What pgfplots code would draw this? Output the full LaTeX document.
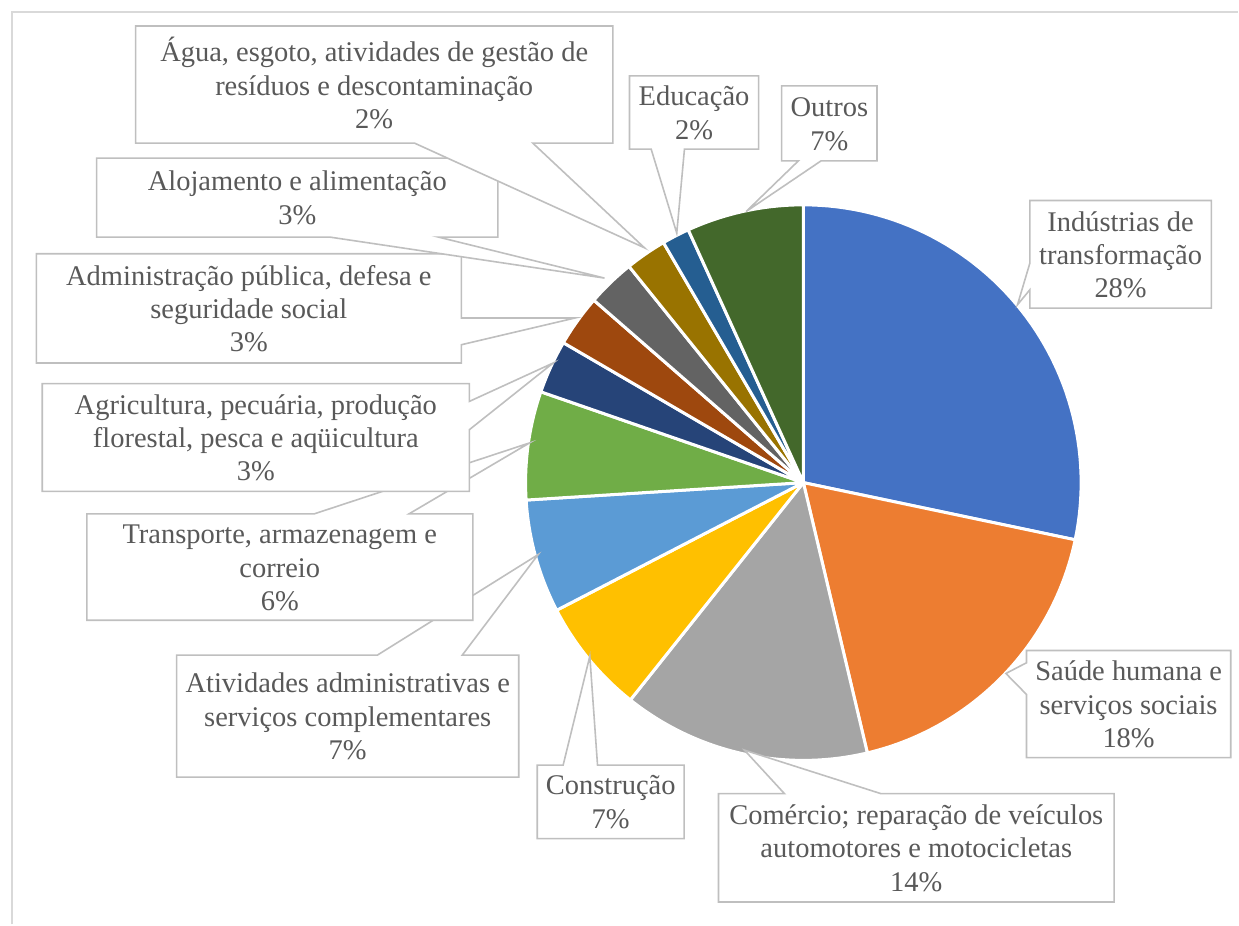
\documentclass[border=0pt]{standalone}
\usepackage{pgfplots}
\pgfplotsset{compat=1.18}
\usepackage{fontspec}
\setmainfont{Liberation Serif}
\definecolor{cA}{HTML}{4472C4}
\definecolor{cB}{HTML}{ED7D31}
\definecolor{cC}{HTML}{A5A5A5}
\definecolor{cD}{HTML}{FFC000}
\definecolor{cE}{HTML}{5B9BD5}
\definecolor{cF}{HTML}{70AD47}
\definecolor{cG}{HTML}{264478}
\definecolor{cH}{HTML}{9E480E}
\definecolor{cI}{HTML}{636363}
\definecolor{cJ}{HTML}{997300}
\definecolor{cK}{HTML}{255E91}
\definecolor{cL}{HTML}{43682B}
\definecolor{txt}{HTML}{595959}
\definecolor{brd}{HTML}{BFBFBF}
\definecolor{frm}{HTML}{D9D9D9}
\tikzset{
  lbl/.style={align=center, text=txt, inner sep=0pt, font=\fontsize{28.5}{33.3}\selectfont},
  co/.style={draw=brd, fill=white, line width=1.6pt, line join=miter}}
% slice: start percent, end percent (cumulative shares), colour
\newcommand{\pieslice}[3]{%
  \addplot[fill=#3, draw=white, line width=3pt, line join=round, domain=#1:#2, samples=60]
    ({804+278*cos(90-3.6*x)},{483-278*sin(90-3.6*x)}) -- (axis cs:804,483) -- cycle;}
\begin{document}
\begin{tikzpicture}
\begin{axis}[scale only axis, width=1239pt, height=925pt,
  xmin=0, xmax=1239, ymin=0, ymax=925, y dir=reverse,
  axis lines=none, clip=false]
\path (0,0) rectangle (1239,925);
\draw[frm, line width=2pt] (12,925) -- (12,12) -- (1239,12);
% shares: 28.3 18.0 14.4 6.7 6.6 6.3 3.1 3.0 2.8 2.4 1.6 6.8
\pieslice{0}{28.3}{cA}
\pieslice{28.3}{46.3}{cB}
\pieslice{46.3}{60.7}{cC}
\pieslice{60.7}{67.4}{cD}
\pieslice{67.4}{74.0}{cE}
\pieslice{74.0}{80.3}{cF}
\pieslice{80.3}{83.4}{cG}
\pieslice{83.4}{86.4}{cH}
\pieslice{86.4}{89.2}{cI}
\pieslice{89.2}{91.6}{cJ}
\pieslice{91.6}{93.2}{cK}
\pieslice{93.2}{100}{cL}
% 1 Industrias
\draw[co] (1030.7,200.7) -- (1212.3,200.7) -- (1212.3,308.3) -- (1030.7,308.3) -- (1030.7,290) -- (1018.3,305) -- (1030.7,263.3) -- cycle;
\node[lbl] at (1121.5,258) {\strut Indústrias de\\\strut transformação\\\strut 28\%};
% 2 Saude
\draw[co] (1027.3,651) -- (1231.7,651) -- (1231.7,758.3) -- (1027.3,758.3) -- (1027.3,695) -- (1006.7,674) -- (1027.3,663.3) -- cycle;
\node[lbl] at (1129.5,708) {\strut Saúde humana e\\\strut serviços sociais\\\strut 18\%};
% 3 Comercio
\draw[co] (719.1,794.3) -- (785.1,794.3) -- (745,750.7) -- (881.7,794.3) -- (1115,794.3) -- (1115,902.7) -- (719.1,902.7) -- cycle;
\node[lbl] at (917,852) {\strut Comércio; reparação de veículos\\\strut automotores e motocicletas\\\strut 14\%};
% 4 Construcao
\draw[co] (537.7,765.7) -- (563.6,765.7) -- (590.3,656.7) -- (598,765.7) -- (684.7,765.7) -- (684.7,839.3) -- (537.7,839.3) -- cycle;
\node[lbl] at (611.2,805.5) {\strut Construção\\\strut 7\%};
% 5 Atividades
\draw[co] (176.7,655.7) -- (377.6,655.7) -- (538.6,555) -- (462.6,655.7) -- (519.2,655.7) -- (519.2,777.7) -- (176.7,777.7) -- cycle;
\node[lbl] at (348,720) {\strut Atividades administrativas e\\\strut serviços complementares\\\strut 7\%};
% 6 Transporte
\draw[co] (87,514.3) -- (314.4,514.3) -- (529.9,443.3) -- (409.3,514.3) -- (473.3,514.3) -- (473.3,620.7) -- (87,620.7) -- cycle;
\node[lbl] at (280,571) {\strut Transporte, armazenagem e\\\strut correio\\\strut 6\%};
% 7 Agricultura
\draw[co] (42.3,384) -- (469.8,384) -- (469.8,401.7) -- (553.6,363.3) -- (469.8,430) -- (469.8,491.7) -- (42.3,491.7) -- cycle;
\node[lbl] at (256,441) {\strut Agricultura, pecuária, produção\\\strut florestal, pesca e aqüicultura\\\strut 3\%};
% 8 Administracao
\draw[co] (36.4,254) -- (461.8,254) -- (461.8,318.3) -- (575.3,318.3) -- (461.8,345) -- (461.8,363.3) -- (36.4,363.3) -- cycle;
\node[lbl] at (249,312) {\strut Administração pública, defesa e\\\strut seguridade social\\\strut 3\%};
% 9 Alojamento
\draw[co] (96.7,158.3) -- (498.3,158.3) -- (498.3,237.3) -- (438.9,237.3) -- (605,278.3) -- (330.2,237.3) -- (96.7,237.3) -- cycle;
\node[lbl] at (297.5,201) {\strut Alojamento e alimentação\\\strut 3\%};
% 10 Agua
\draw[co] (135.7,26) -- (613.3,26) -- (613.3,143.3) -- (533.3,143.3) -- (645,248) -- (415,143.3) -- (135.7,143.3) -- cycle;
\node[lbl] at (374.5,88) {\strut Água, esgoto, atividades de gestão de\\\strut resíduos e descontaminação\\\strut 2\%};
% 11 Educacao
\draw[co] (630,76) -- (759.3,76) -- (759.3,149.3) -- (685,149.3) -- (677.3,233.3) -- (651.7,149.3) -- (630,149.3) -- cycle;
\node[lbl] at (694.6,116) {\strut Educação\\\strut 2\%};
% 12 Outros
\draw[co] (782.3,86) -- (877.7,86) -- (877.7,161) -- (821.7,161) -- (746.7,211.7) -- (799,161) -- (782.3,161) -- cycle;
\node[lbl] at (830,127) {\strut Outros\\\strut 7\%};
\end{axis}
\end{tikzpicture}
\end{document}
